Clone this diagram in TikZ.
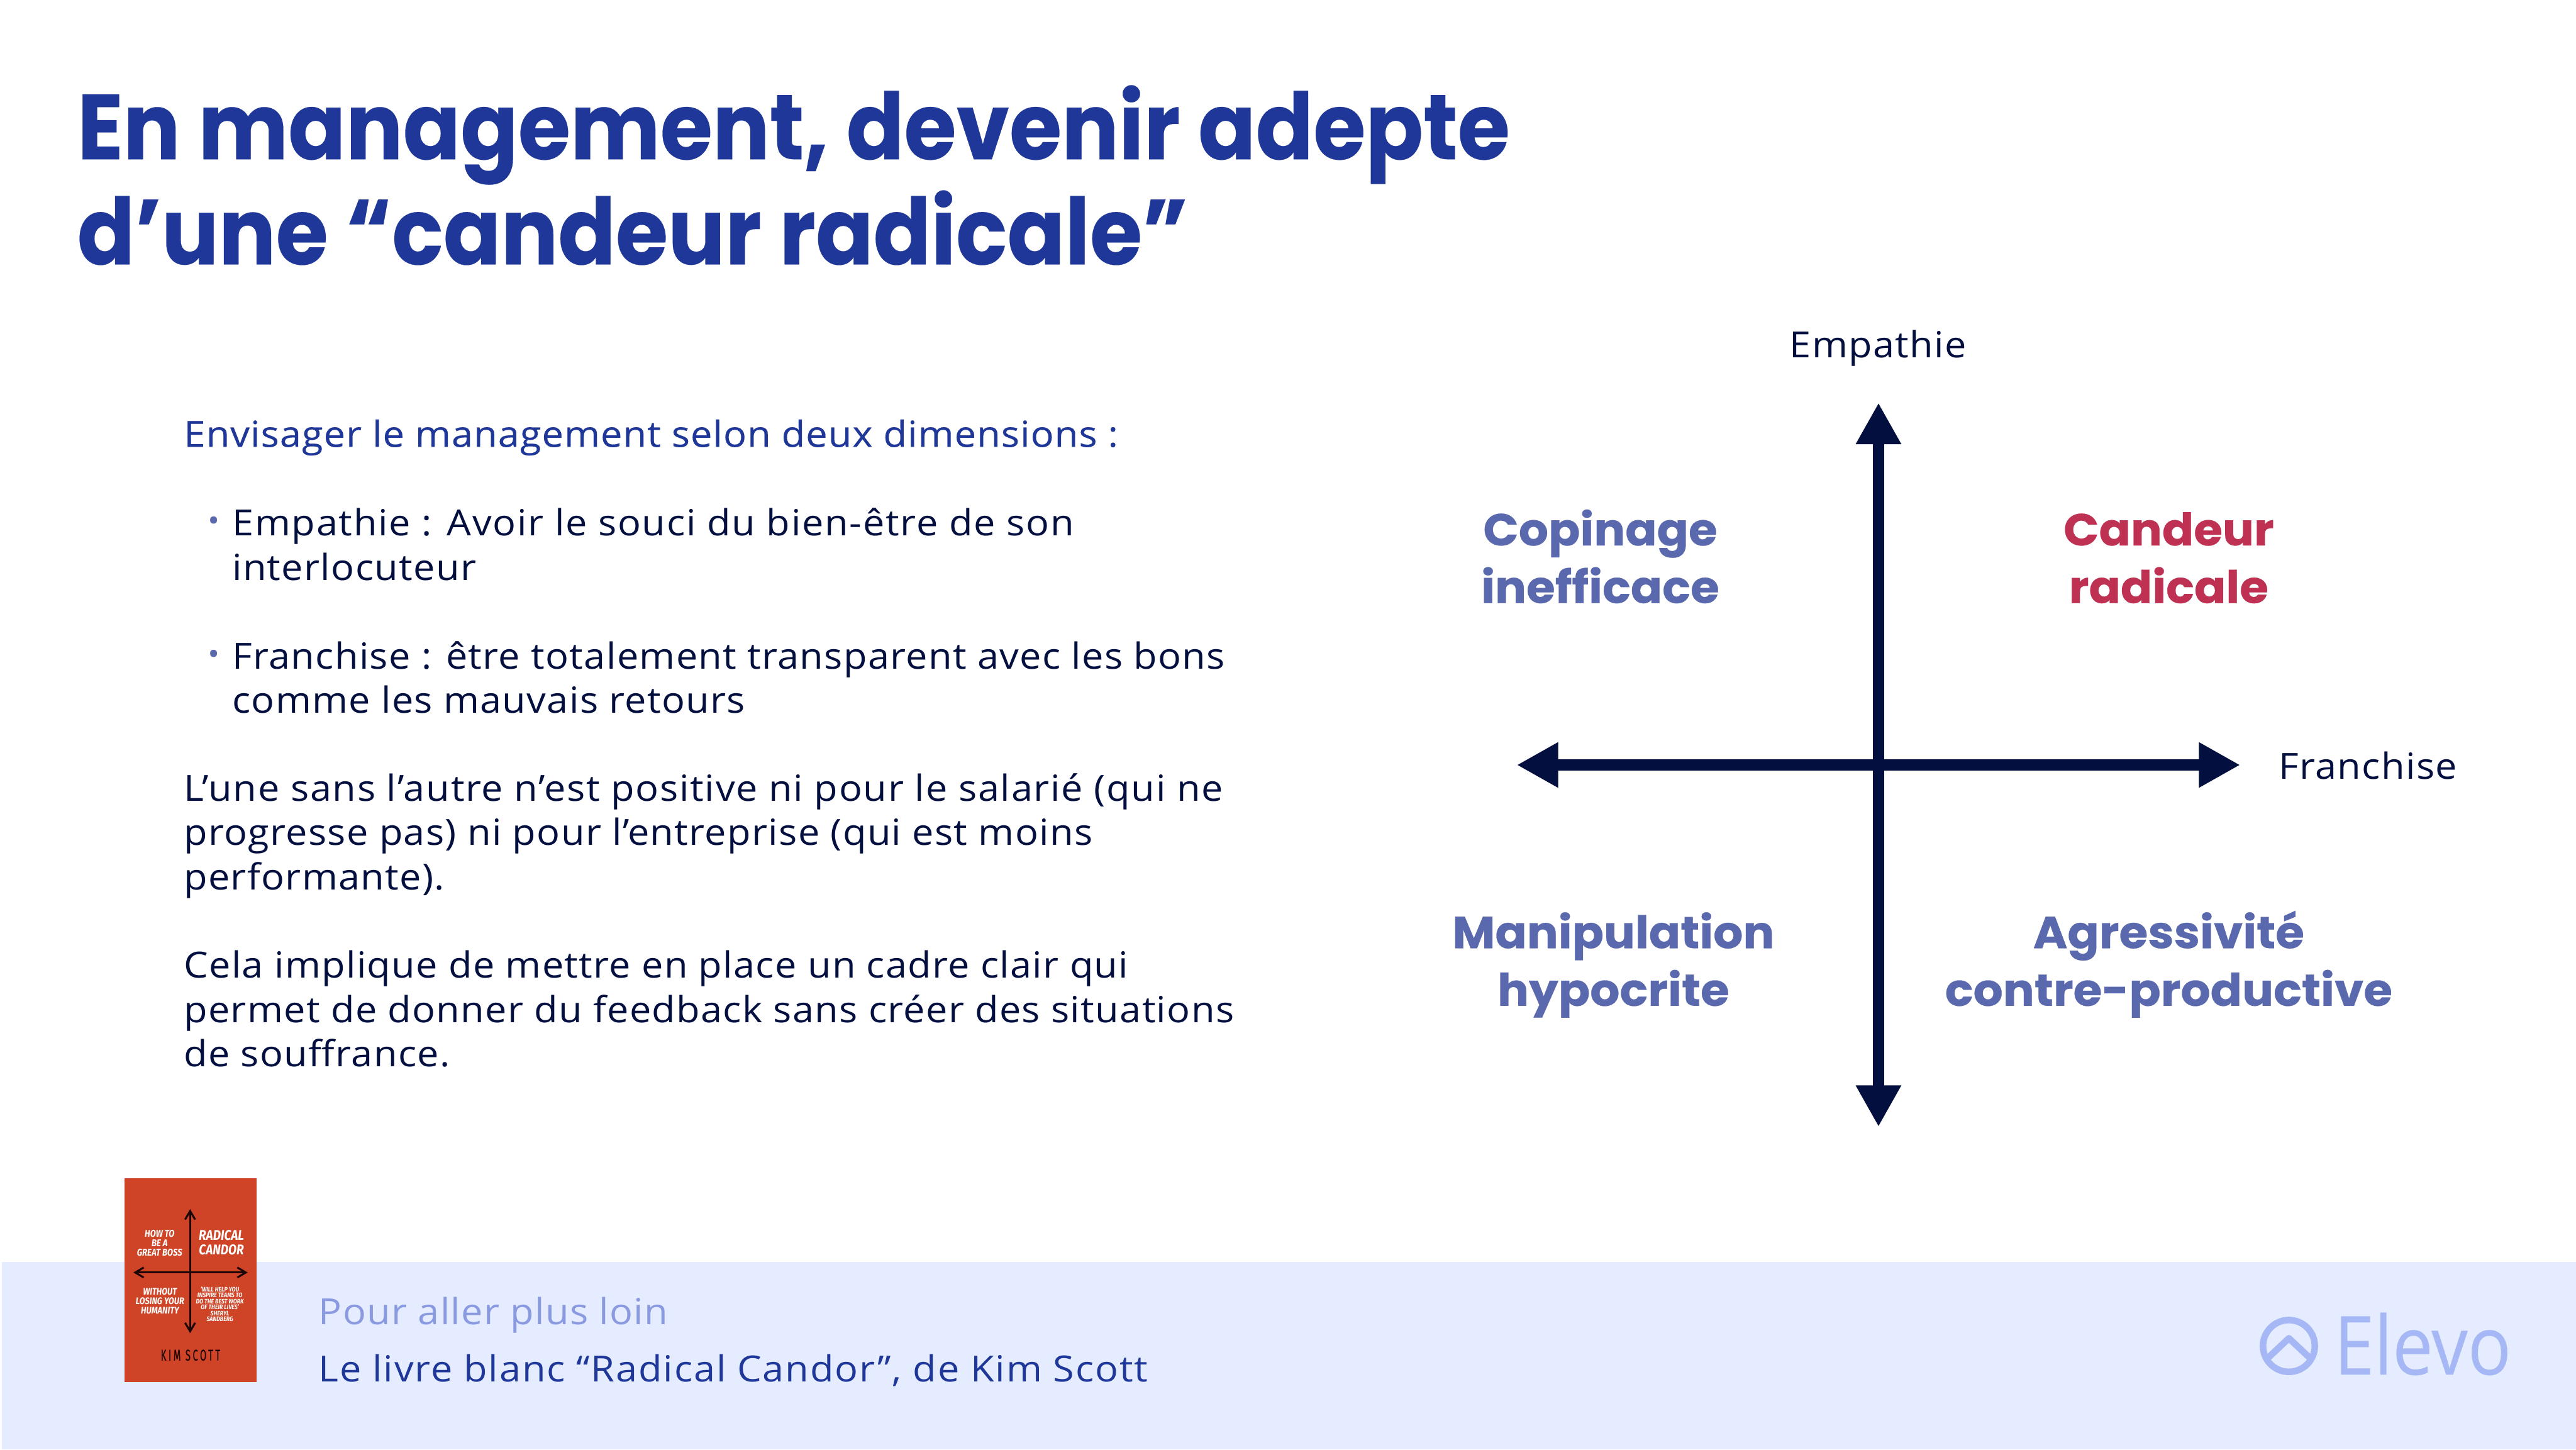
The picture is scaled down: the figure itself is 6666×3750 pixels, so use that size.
\documentclass[tikz,border=0pt]{standalone}
\usepackage{fontspec}
\usetikzlibrary{arrows.meta}
\setmainfont{Open Sans}
\newfontfamily\titlef{Poppins}[BoldFont=Poppins Bold,BoldFeatures={FakeStretch=0.918,FakeBold=0.15}]
\newfontfamily\quadf{Poppins}[BoldFont=Poppins Bold,BoldFeatures={FakeStretch=1.04,FakeBold=0.35}]
\newfontfamily\bodyf{Open Sans}[FakeStretch=1.07,LetterSpace=2.3]
\newfontfamily\widef{Open Sans}[FakeStretch=1.07,LetterSpace=3.0]
\newfontfamily\leadf{Open Sans}[FakeStretch=1.07,LetterSpace=1.85,FakeBold=0.25]
\newfontfamily\footf{Open Sans}[FakeStretch=1.07,LetterSpace=3.2]
\newfontfamily\coverf{Fira Sans}[BoldFeatures={FakeStretch=0.85},BoldItalicFeatures={FakeStretch=0.85}]
\newfontfamily\kimf{Fira Sans}[FakeStretch=0.6,LetterSpace=14,FakeBold=0.5]
\newfontfamily\logof{Open Sans}[FakeStretch=0.885,FakeBold=0.2]
\definecolor{navy}{HTML}{1E3799}
\definecolor{ink}{HTML}{020F3F}
\definecolor{quad}{HTML}{5A68AE}
\definecolor{candeur}{HTML}{BF3152}
\definecolor{band}{HTML}{E6ECFF}
\definecolor{pale}{HTML}{8A9AE0}
\definecolor{logoc}{HTML}{A6B7F5}
\definecolor{cover}{HTML}{CF4427}
\definecolor{coverdark}{HTML}{1E0505}
\tikzset{
  x=0.01cm,y=-0.01cm,
  txt/.style={inner sep=0pt,outer sep=0pt,anchor=base west,align=left},
  titlestyle/.style={txt,text=navy,font=\titlef\bfseries\fontsize{68}{77}\selectfont},
  bodystyle/.style={txt,text=ink,font=\bodyf\fontsize{26.5}{32.7}\selectfont},
  leadstyle/.style={txt,text=navy,font=\leadf\fontsize{26.5}{32.7}\selectfont},
  bulletstyle/.style={inner sep=0pt,outer sep=0pt,text=quad,font=\bodyf\fontsize{22}{24}\selectfont},
  quadstyle/.style={inner sep=0pt,outer sep=0pt,anchor=base,align=center,text=quad,font=\quadf\bfseries\fontsize{33}{42.2}\selectfont},
  axislabel/.style={inner sep=0pt,outer sep=0pt,text=ink,font=\bodyf\fontsize{26.5}{32.7}\selectfont},
  axis/.style={draw=ink,line width=0.28cm,{Triangle[length=1.07cm,width=1.1cm]}-{Triangle[length=1.07cm,width=1.1cm]}},
  covertext/.style={inner sep=0pt,outer sep=0pt,align=center,text=white},
  coveraxis/.style={draw=coverdark,line width=0.05cm,{Straight Barb[length=0.22cm,width=0.26cm]}-{Straight Barb[length=0.22cm,width=0.26cm]}},
}
\begin{document}
\begin{tikzpicture}
\useasboundingbox (0,0) rectangle (6666,3750);
\fill[white] (0,0) rectangle (6666,3750);
\fill[band] (5,3264) rectangle (6666,3750);

\node[titlestyle] (t1) at (200,412) {En management, devenir adepte};
\node[titlestyle] (t2) at (200,684) {d’une “candeur radicale”};

\node[leadstyle] (lead) at (476,1156) {Envisager le management selon deux dimensions :};
\node[bulletstyle] (b1) at (553,1356) {•};
\node[bodystyle,font=\widef\fontsize{26.5}{32.7}\selectfont] (p1) at (601,1386) {Empathie : Avoir le souci du bien-être de son};
\node[bodystyle] (p1b) at (601,1501) {interlocuteur};
\node[bulletstyle] (b2) at (553,1700) {•};
\node[bodystyle] (p2) at (601,1730) {Franchise : être totalement transparent avec les bons};
\node[bodystyle] (p2b) at (601,1845) {comme les mauvais retours};
\node[bodystyle,font=\widef\fontsize{26.5}{32.7}\selectfont] (p3) at (476,2072) {L’une sans l’autre n’est positive ni pour le salarié (qui ne};
\node[bodystyle] (p3b) at (476,2187) {progresse pas) ni pour l’entreprise (qui est moins};
\node[bodystyle] (p3c) at (476,2302) {performante).};
\node[bodystyle] (p4) at (476,2530) {Cela implique de mettre en place un cadre clair qui};
\node[bodystyle] (p4b) at (476,2645) {permet de donner du feedback sans créer des situations};
\node[bodystyle] (p4c) at (476,2760) {de souffrance.};

\coordinate (up) at (4861,1042);
\coordinate (down) at (4861,2915);
\coordinate (left) at (3925,1979);
\coordinate (right) at (5797,1979);
\draw[axis] (down) -- (up);
\draw[axis] (left) -- (right);
\node[axislabel,anchor=base] (emp) at (4860,925) {Empathie};
\node[axislabel,anchor=base west] (fra) at (5897,2015) {Franchise};

\node[quadstyle] (q1) at (4141,1411) {Copinage};
\node[quadstyle] (q1b) at (4141,1560) {inefficace};
\node[quadstyle,text=candeur] (q2) at (5612,1411) {Candeur};
\node[quadstyle,text=candeur] (q2b) at (5612,1560) {radicale};
\node[quadstyle] (q3) at (4175,2453) {Manipulation};
\node[quadstyle] (q3b) at (4175,2602) {hypocrite};
\node[quadstyle] (q4) at (5612,2453) {Agressivité};
\node[quadstyle] (q4b) at (5612,2602) {contre-productive};

\fill[cover] (322,3048) rectangle (664,3576);
\coordinate (cu) at (492,3128);
\coordinate (cd) at (492,3449);
\coordinate (cl) at (345,3292);
\coordinate (cr) at (641,3292);
\draw[coveraxis] (cd) -- (cu);
\draw[coveraxis] (cl) -- (cr);
\node[covertext,font=\coverf\bfseries\itshape\fontsize{7.2}{7}\selectfont] (c1) at (413,3216) {HOW TO\\BE A\\GREAT BOSS};
\node[covertext,font=\coverf\bfseries\itshape\fontsize{10.4}{10.8}\selectfont] (c2) at (573,3215) {RADICAL\\CANDOR};
\node[covertext,font=\coverf\bfseries\itshape\fontsize{7}{7}\selectfont] (c3) at (414,3366) {WITHOUT\\LOSING YOUR\\HUMANITY};
\node[covertext,font=\coverf\bfseries\itshape\fontsize{4.8}{4.4}\selectfont] (c4) at (569,3374) {‘WILL HELP YOU\\INSPIRE TEAMS TO\\DO THE BEST WORK\\OF THEIR LIVES’\\SHERYL\\SANDBERG};
\node[covertext,text=coverdark,font=\kimf\fontsize{11.5}{12}\selectfont] (c5) at (493,3506) {KIM SCOTT};

\node[txt,text=pale,font=\bodyf\fontsize{26.5}{32.7}\selectfont] (f1) at (825,3427) {Pour aller plus loin};
\node[txt,text=navy,font=\footf\fontsize{26.5}{32.7}\selectfont] (f2) at (825,3575) {Le livre blanc “Radical Candor”, de Kim Scott};

\draw[logoc,line width=0.17cm] (5923,3482) circle (67);
\draw[logoc,line width=0.17cm,line join=round] (5870,3512) -- (5923,3462) -- (5976,3512);
\node[txt,text=logoc,font=\logof\fontsize{60}{64}\selectfont] (logo) at (6040,3556) {Elevo};
\end{tikzpicture}
\end{document}
